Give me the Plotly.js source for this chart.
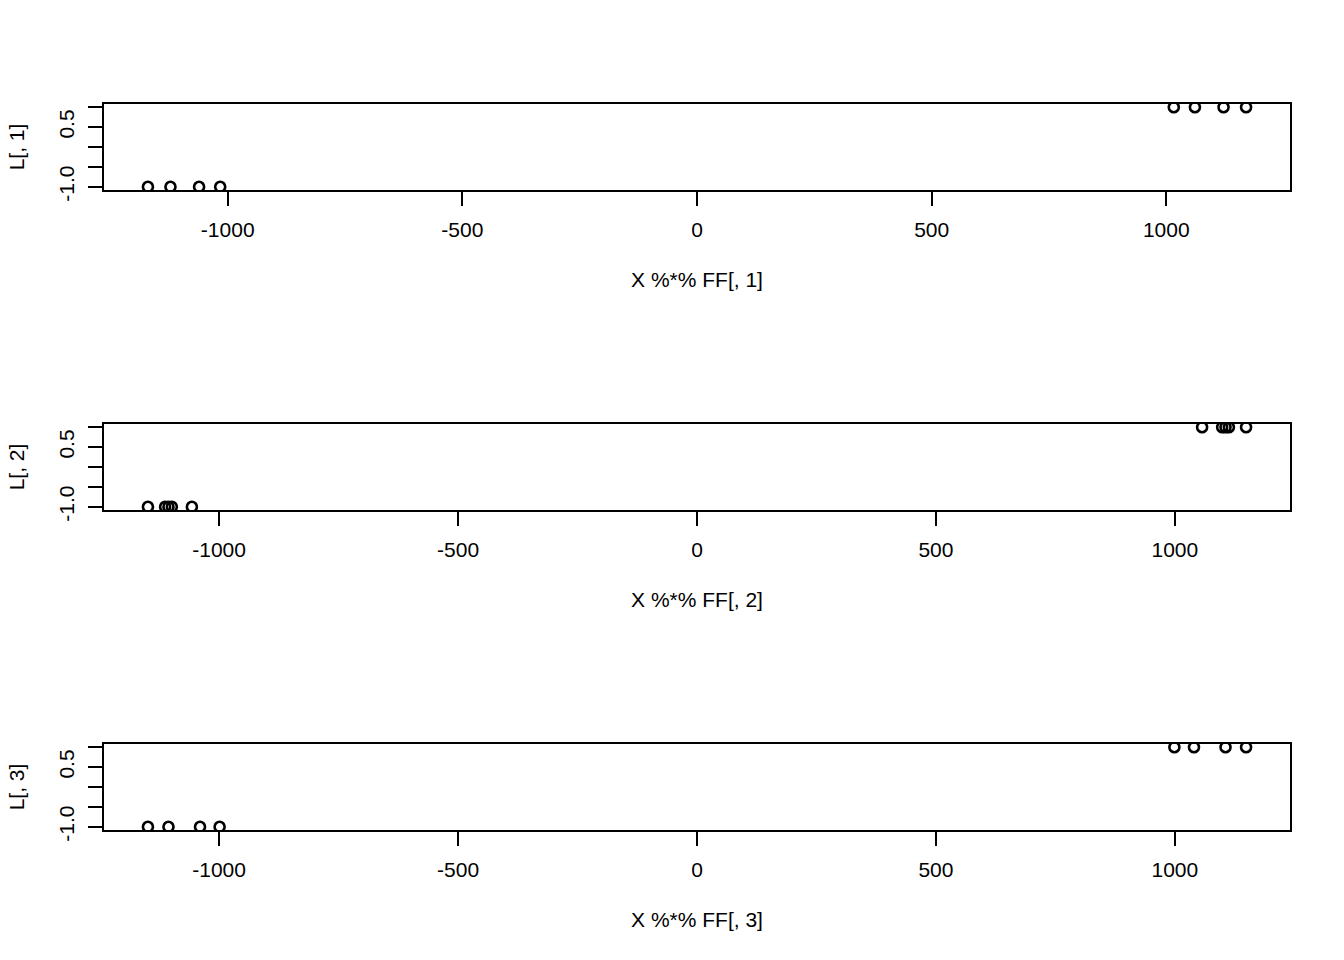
<!DOCTYPE html>
<html>
<head>
<meta charset="utf-8">
<script src="https://cdn.plot.ly/plotly-3.0.1.min.js"></script>
<style>
  html, body { margin: 0; padding: 0; background: #fff; }
  #chart { width: 1344px; height: 960px; }
</style>
</head>
<body>
<div id="chart"></div>
<script>
// Data
const x1 = [-1170, -1122, -1061, -1016, 1016, 1061, 1122, 1170];
const L1 = [-1, -1, -1, -1, 1, 1, 1, 1];
const x2 = [-1149, -1113, -1106, -1099, -1057, 1057, 1099, 1106, 1113, 1149];
const L2 = [-1, -1, -1, -1, -1, 1, 1, 1, 1, 1];
const x3 = [-1149, -1106, -1040, -999, 999, 1040, 1106, 1149];
const L3 = [-1, -1, -1, -1, 1, 1, 1, 1];

const xTitles = ["X %*% FF[, 1]", "X %*% FF[, 2]", "X %*% FF[, 3]"];
const yTitles = ["L[, 1]", "L[, 2]", "L[, 3]"];
const xTickVals = [-1000, -500, 0, 500, 1000];
const yTickVals = [-1, -0.5, 0, 0.5, 1];
const yTickText = ["-1.0", "", "", "0.5", ""];

const FONT = "Liberation Sans, Arial, Helvetica, sans-serif";
const FS = 21;

function pad(arr) {
  const mn = Math.min(...arr), mx = Math.max(...arr);
  const d = (mx - mn) * 0.04;
  return [mn - d, mx + d];
}

const xs = [x1, x2, x3];
const Ls = [L1, L2, L3];
const traces = xs.map((x, i) => ({
  x: x, y: Ls[i],
  type: 'scatter', mode: 'markers',
  xaxis: i === 0 ? 'x' : 'x' + (i + 1),
  yaxis: i === 0 ? 'y' : 'y' + (i + 1),
  marker: { symbol: 'circle-open', size: 10, color: '#000', line: { width: 2.6, color: '#000' } },
  cliponaxis: true,
  showlegend: false,
  hoverinfo: 'skip'
}));

// plot area: x 104..1290, heights 86px each
const H = 960, T = 104, B = 130;
const ph = H - T - B;
function dom(top, bottom) { return [(H - B - bottom) / ph, (H - B - top) / ph]; }
const doms = [dom(104, 190), dom(424, 510), dom(744, 830)];

const layout = {
  width: 1344, height: 960,
  margin: { l: 104, r: 54, t: T, b: B },
  paper_bgcolor: '#fff', plot_bgcolor: '#fff',
  font: { family: FONT, size: FS, color: '#000' },
  showlegend: false
};

for (let i = 0; i < 3; i++) {
  const xa = i === 0 ? 'xaxis' : 'xaxis' + (i + 1);
  const ya = i === 0 ? 'yaxis' : 'yaxis' + (i + 1);
  const ys = i === 0 ? 'y' : 'y' + (i + 1);
  const xs_ = i === 0 ? 'x' : 'x' + (i + 1);
  layout[xa] = {
    domain: [0, 1], anchor: ys,
    range: pad(xs[i]),
    tickmode: 'array', tickvals: xTickVals, ticktext: xTickVals.map(String),
    ticks: 'outside', ticklen: 14, tickwidth: 2, tickcolor: '#000',
    ticklabelstandoff: 6,
    showline: true, linewidth: 2, linecolor: '#000', mirror: true,
    showgrid: false, zeroline: false,
    tickfont: { family: FONT, size: FS },
    title: { text: xTitles[i], font: { family: FONT, size: FS }, standoff: 32 }
  };
  layout[ya] = {
    domain: doms[i], anchor: xs_,
    range: [-1.08, 1.08],
    tickmode: 'array', tickvals: yTickVals, ticktext: yTickText,
    ticks: 'outside', ticklen: 14, tickwidth: 2, tickcolor: '#000',
    ticklabelstandoff: 6,
    tickangle: -90,
    showline: true, linewidth: 2, linecolor: '#000', mirror: true,
    showgrid: false, zeroline: false,
    tickfont: { family: FONT, size: FS },
    title: { text: yTitles[i], font: { family: FONT, size: FS }, standoff: 24 }
  };
}

Plotly.newPlot('chart', traces, layout, { staticPlot: true, displayModeBar: false });
</script>
</body>
</html>
